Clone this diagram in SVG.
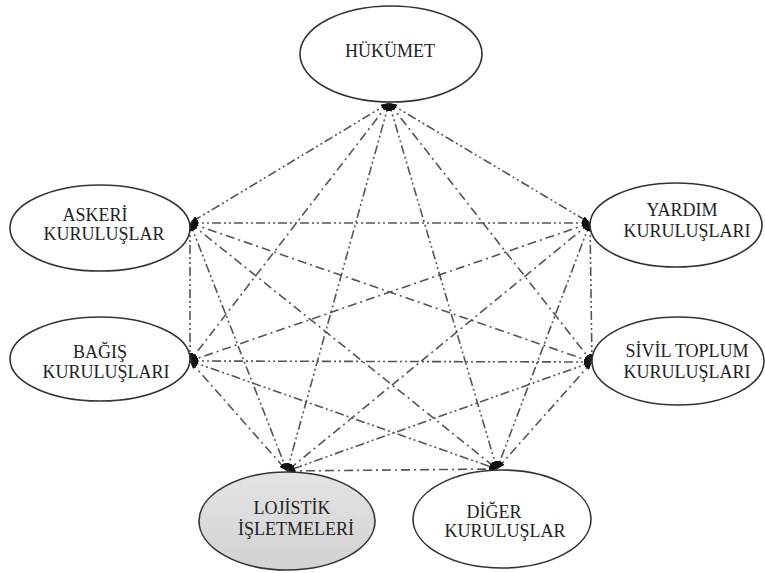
<svg xmlns="http://www.w3.org/2000/svg" width="765" height="573" viewBox="0 0 765 573">
<style>
.node{fill:#fff;stroke:#333;stroke-width:1.6}
.gray{fill:url(#g)}
.t{font-family:"Liberation Serif","Times New Roman",serif;font-size:18px;fill:#222;text-anchor:middle}
.c{fill:none;stroke:#555;stroke-width:1.6;marker-start:url(#ah);marker-end:url(#ah)}
.dd{stroke-dasharray:9 3 2 3 2 3}
.d1{stroke-dasharray:9 4 2 4}
</style>
<defs>
<linearGradient id="g" x1="0" y1="0" x2="0" y2="1">
<stop offset="0" stop-color="#e4e4e4"/>
<stop offset="1" stop-color="#d2d2d2"/>
</linearGradient>
<marker id="ah" viewBox="0 0 8 6" refX="8" refY="3" markerWidth="8" markerHeight="6" markerUnits="userSpaceOnUse" orient="auto-start-reverse">
<path d="M0,0 L8,3 L0,6 z" fill="#111"/>
</marker>
</defs>
<g id="connectors">
<line class="c dd" x1="389" y1="103" x2="190" y2="223"/>
<line class="c dd" x1="389" y1="103" x2="590" y2="223"/>
<line class="c d1" x1="389" y1="103" x2="190" y2="361"/>
<line class="c d1" x1="389" y1="103" x2="592" y2="362"/>
<line class="c dd" x1="389" y1="103" x2="287" y2="471"/>
<line class="c dd" x1="389" y1="103" x2="497" y2="469"/>
<line class="c dd" x1="190" y1="223" x2="590" y2="223"/>
<line class="c dd" x1="190" y1="223" x2="190" y2="361"/>
<line class="c d1" x1="190" y1="223" x2="592" y2="362"/>
<line class="c dd" x1="190" y1="223" x2="287" y2="471"/>
<line class="c d1" x1="190" y1="223" x2="497" y2="469"/>
<line class="c d1" x1="590" y1="223" x2="190" y2="361"/>
<line class="c dd" x1="590" y1="223" x2="592" y2="362"/>
<line class="c d1" x1="590" y1="223" x2="287" y2="471"/>
<line class="c dd" x1="590" y1="223" x2="497" y2="469"/>
<line class="c dd" x1="190" y1="361" x2="592" y2="362"/>
<line class="c d1" x1="190" y1="361" x2="287" y2="471"/>
<line class="c dd" x1="190" y1="361" x2="497" y2="469"/>
<line class="c dd" x1="592" y1="362" x2="287" y2="471"/>
<line class="c d1" x1="592" y1="362" x2="497" y2="469"/>
<line class="c d1" x1="287" y1="471" x2="497" y2="469"/>
</g>
<g id="hukumet">
<ellipse class="node" cx="391" cy="54" rx="91" ry="48"/>
<text class="t" x="390" y="57">HÜKÜMET</text>
</g>
<g id="askeri">
<ellipse class="node" cx="100" cy="228" rx="90" ry="43"/>
<text class="t" x="95" y="221">ASKERİ</text>
<text class="t" x="104" y="240">KURULUŞLAR</text>
</g>
<g id="yardim">
<ellipse class="node" cx="676" cy="225" rx="86" ry="42"/>
<text class="t" x="682" y="216">YARDIM</text>
<text class="t" x="687" y="237">KURULUŞLARI</text>
</g>
<g id="bagis">
<ellipse class="node" cx="100" cy="359" rx="90" ry="42"/>
<text class="t" x="100" y="358">BAĞIŞ</text>
<text class="t" x="106" y="378">KURULUŞLARI</text>
</g>
<g id="sivil">
<ellipse class="node" cx="678" cy="361" rx="86" ry="44"/>
<text class="t" x="687" y="357">SİVİL TOPLUM</text>
<text class="t" x="687" y="378">KURULUŞLARI</text>
</g>
<g id="lojistik">
<ellipse class="node gray" cx="287" cy="521" rx="88" ry="49"/>
<text class="t" x="292" y="514">LOJİSTİK</text>
<text class="t" x="296" y="535">İŞLETMELERİ</text>
</g>
<g id="diger">
<ellipse class="node" cx="502" cy="519" rx="89" ry="49"/>
<text class="t" x="494" y="518">DİĞER</text>
<text class="t" x="505" y="537">KURULUŞLAR</text>
</g>
</svg>
